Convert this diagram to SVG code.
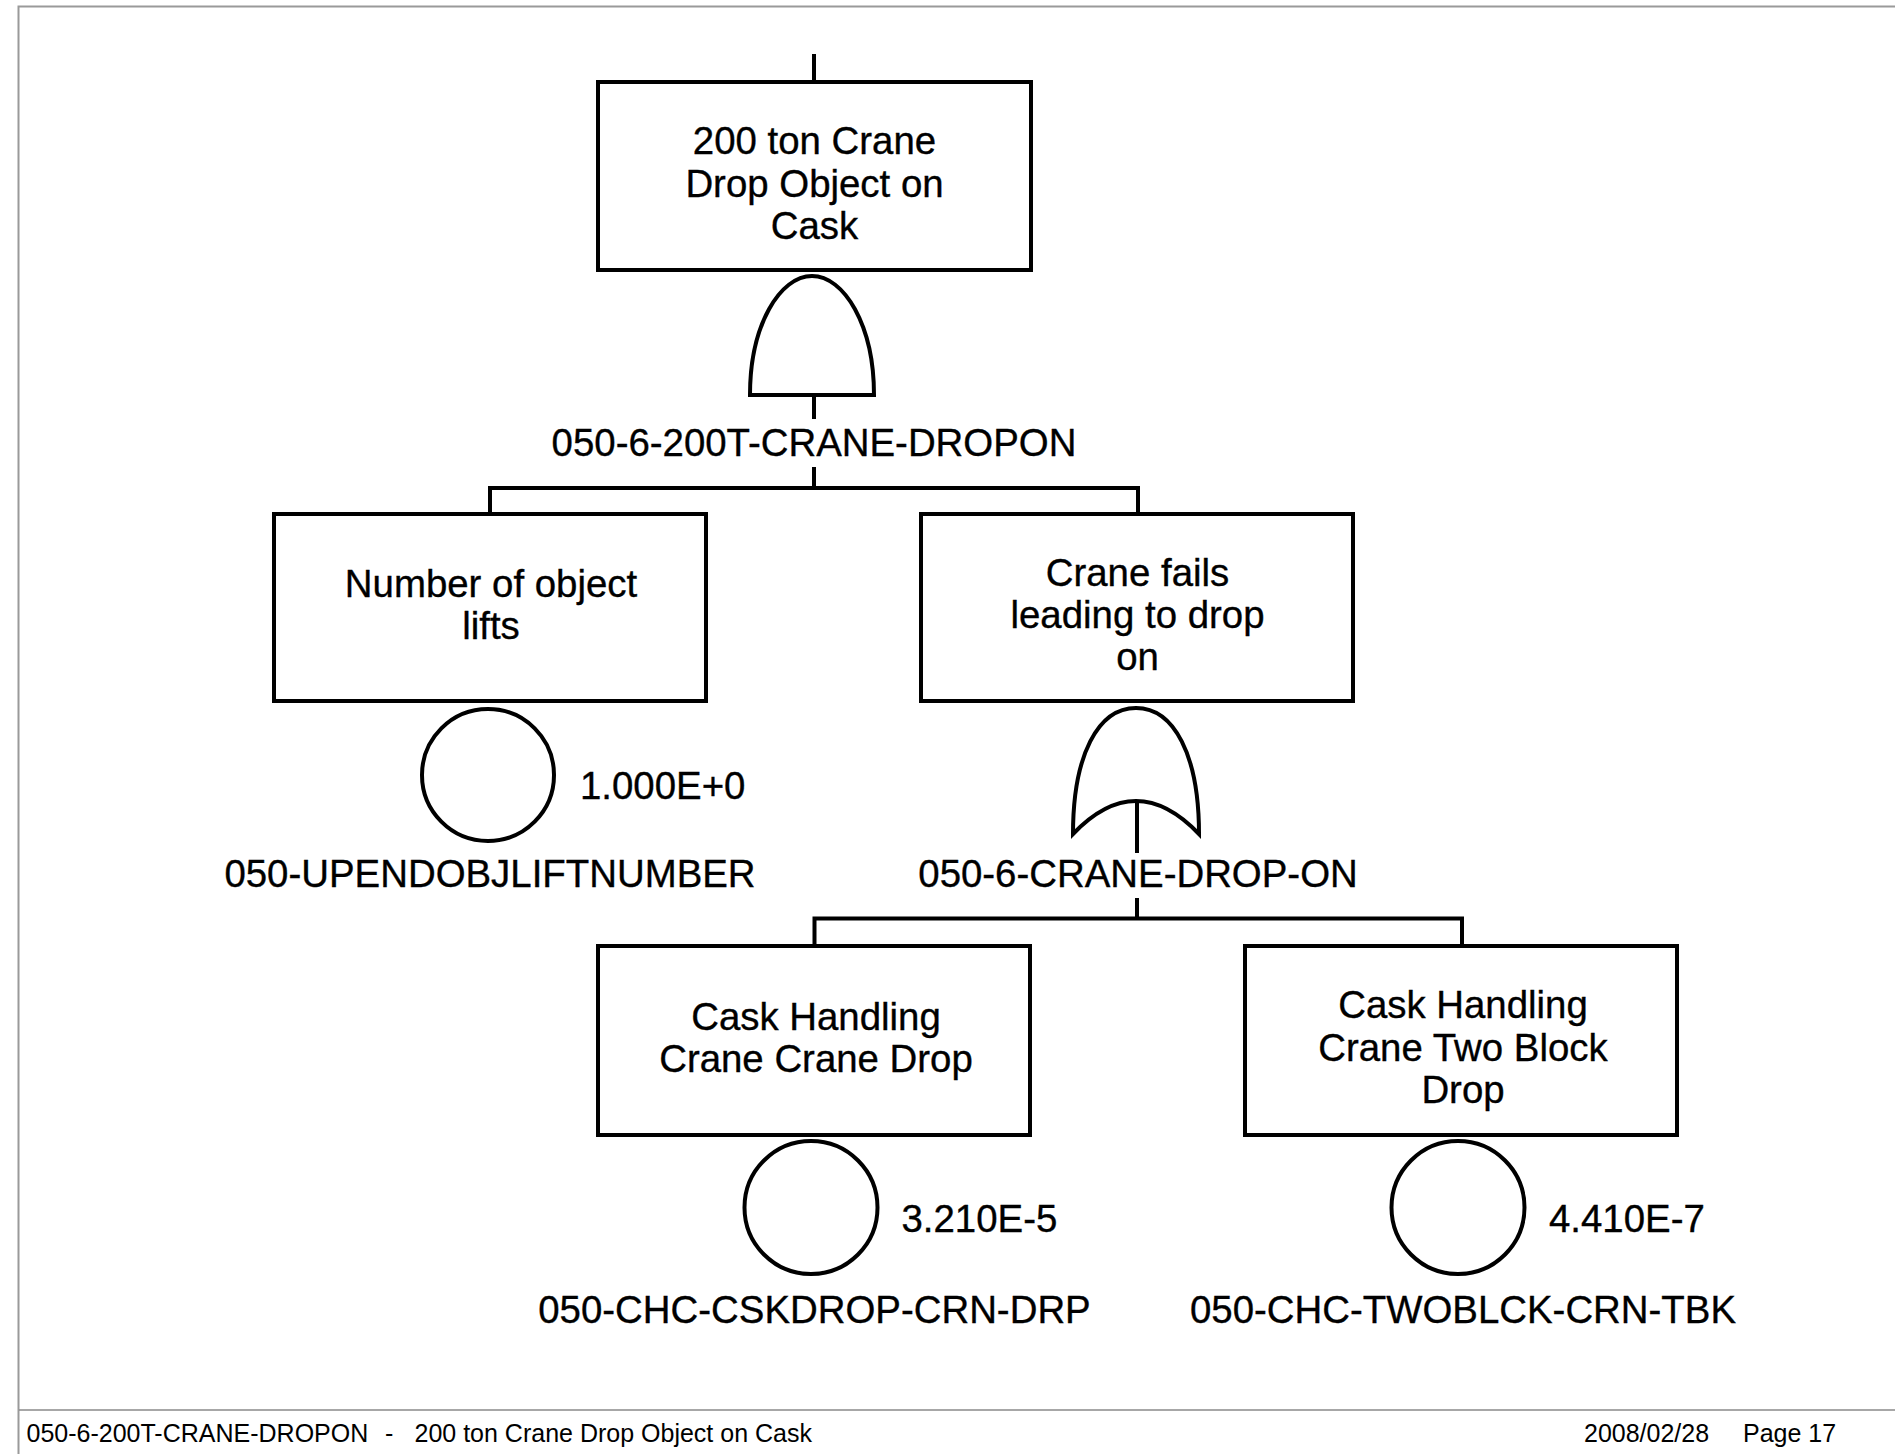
<svg xmlns="http://www.w3.org/2000/svg" width="1895" height="1454" viewBox="0 0 1895 1454">
<style>
  .box{fill:#fff;stroke:#000;stroke-width:4;stroke-linejoin:miter}
  .gate{fill:#fff;stroke:#000;stroke-width:4;stroke-linejoin:miter}
  .ev{fill:#fff;stroke:#000;stroke-width:4}
  .conn{fill:none;stroke:#000;stroke-width:4;stroke-linecap:butt}
  .t{font-family:"Liberation Sans",Arial,sans-serif;font-size:38.4px;fill:#000;stroke:#000;stroke-width:0.35;text-anchor:middle}
  .v{font-family:"Liberation Sans",Arial,sans-serif;font-size:38.4px;fill:#000;stroke:#000;stroke-width:0.35}
  .f{font-family:"Liberation Sans",Arial,sans-serif;font-size:25px;fill:#000}
  .frame{fill:none;stroke:#9a9a9a;stroke-width:2}
  .sep{fill:none;stroke:#8a8a8a;stroke-width:1.5}
</style>
<rect x="0" y="0" width="1895" height="1454" fill="#fff"/>
<g id="frame">
  <path class="frame" d="M18.5 1454 V6.5 H1895"/>
  <line class="sep" x1="19" y1="1410" x2="1895" y2="1410"/>
</g>
<g id="connectors">
  <line class="conn" x1="814" y1="54" x2="814" y2="83"/>
  <line class="conn" x1="814" y1="395" x2="814" y2="419"/>
  <line class="conn" x1="814" y1="467" x2="814" y2="488"/>
  <path class="conn" d="M490 514 V488 H1138 V514"/>
  <line class="conn" x1="1137" y1="800" x2="1137" y2="853"/>
  <line class="conn" x1="1137" y1="898" x2="1137" y2="918.5"/>
  <path class="conn" d="M814.5 946 V918.5 H1462 V946"/>
</g>
<g id="top-event">
  <rect class="box" x="598" y="82" width="433" height="188"/>
  <text class="t" x="814.5" y="154">200 ton Crane</text>
  <text class="t" x="814.5" y="197">Drop Object on</text>
  <text class="t" x="814.5" y="239">Cask</text>
</g>
<g id="gate-and">
  <path class="gate" d="M750 395 C750 325 780 276 812 276 C844 276 874 325 874 395 Z"/>
  <text class="t" x="814" y="456">050-6-200T-CRANE-DROPON</text>
</g>
<g id="node-lifts">
  <rect class="box" x="274" y="514" width="432" height="187"/>
  <text class="t" x="491" y="597">Number of object</text>
  <text class="t" x="491" y="639">lifts</text>
  <circle class="ev" cx="488" cy="775" r="66"/>
  <text class="v" x="580" y="799">1.000E+0</text>
  <text class="t" x="490" y="887">050-UPENDOBJLIFTNUMBER</text>
</g>
<g id="node-crane-fails">
  <rect class="box" x="921" y="514" width="432" height="187"/>
  <text class="t" x="1137.5" y="586">Crane fails</text>
  <text class="t" x="1137.5" y="628">leading to drop</text>
  <text class="t" x="1137.5" y="670">on</text>
</g>
<g id="gate-or">
  <path class="gate" d="M1073 834 C1073 755 1098 708 1136 708 C1174 708 1199 755 1199 834 Q1136 768 1073 834 Z"/>
  <text class="t" x="1138" y="887">050-6-CRANE-DROP-ON</text>
</g>
<g id="node-cskdrop">
  <rect class="box" x="598" y="946" width="432" height="189"/>
  <text class="t" x="816" y="1030">Cask Handling</text>
  <text class="t" x="816" y="1072">Crane Crane Drop</text>
  <circle class="ev" cx="811" cy="1207.5" r="66.5"/>
  <text class="v" x="901.5" y="1232">3.210E-5</text>
  <text class="t" x="814.5" y="1323">050-CHC-CSKDROP-CRN-DRP</text>
</g>
<g id="node-twoblock">
  <rect class="box" x="1245" y="946" width="432" height="189"/>
  <text class="t" x="1463" y="1018">Cask Handling</text>
  <text class="t" x="1463" y="1061">Crane Two Block</text>
  <text class="t" x="1463" y="1103">Drop</text>
  <circle class="ev" cx="1458" cy="1207.5" r="66.5"/>
  <text class="v" x="1549" y="1232">4.410E-7</text>
  <text class="t" x="1463" y="1323">050-CHC-TWOBLCK-CRN-TBK</text>
</g>
<g id="footer">
  <text class="f" y="1442"><tspan x="26.5">050-6-200T-CRANE-DROPON</tspan><tspan x="385">-</tspan><tspan x="414.5">200 ton Crane Drop Object on Cask</tspan></text>
  <text class="f" x="1584" y="1442">2008/02/28</text>
  <text class="f" x="1743" y="1442">Page 17</text>
</g>
</svg>
